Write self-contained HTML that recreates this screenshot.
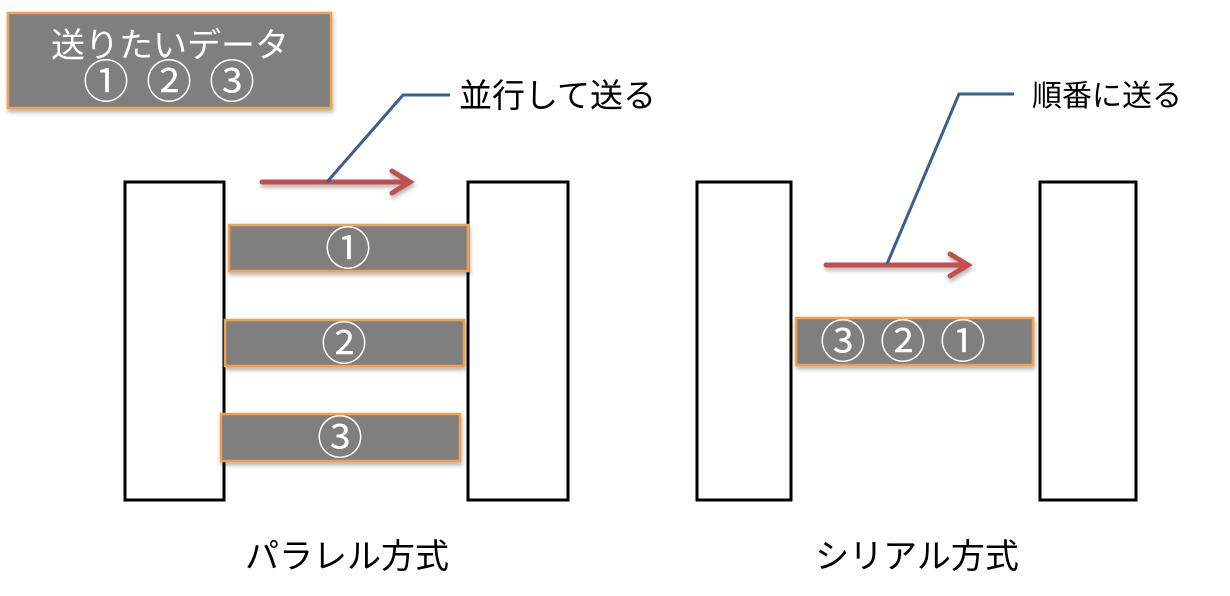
<!DOCTYPE html>
<html><head><meta charset="utf-8"><style>
html,body{margin:0;padding:0;background:#fff;width:1230px;height:596px;overflow:hidden}
svg{display:block}
text{font-family:"Liberation Sans","Noto Sans CJK JP",sans-serif}
</style></head><body>
<svg width="1230" height="596" viewBox="0 0 1230 596" xmlns="http://www.w3.org/2000/svg">
<defs>
<filter id="sh" x="-10%" y="-20%" width="130%" height="160%"><feDropShadow dx="1" dy="3" stdDeviation="2" flood-color="#000" flood-opacity="0.3"/></filter>
</defs>
<!-- top box -->
<rect x="8" y="13" width="323" height="95" fill="#7f7f7f" stroke="#f0a050" stroke-width="2.5" filter="url(#sh)"/>
<text x="170" y="57" font-size="34" fill="#fff" text-anchor="middle">送りたいデータ</text>
<g font-size="46" fill="#fff" text-anchor="middle" dominant-baseline="central">
<text x="106" y="82">①</text>
<text x="169" y="82">②</text>
<text x="232" y="82">③</text>
</g>

<!-- left diagram -->
<rect x="125" y="182" width="99" height="318" fill="none" stroke="#000" stroke-width="3"/>
<rect x="468" y="182" width="100" height="318" fill="none" stroke="#000" stroke-width="3"/>
<g filter="url(#sh)" stroke="#f0a050" stroke-width="2.5" fill="#7f7f7f">
<rect x="229" y="225" width="239" height="46"/>
<rect x="225" y="320" width="239" height="46"/>
<rect x="221" y="414" width="239" height="47"/>
<rect x="796" y="318" width="237" height="47"/>
</g>
<g font-size="46" fill="#fff" text-anchor="middle" dominant-baseline="central">
<text x="348" y="249">①</text>
<text x="344" y="344">②</text>
<text x="340" y="438">③</text>
<text x="843" y="342">③</text>
<text x="903" y="342">②</text>
<text x="963" y="342">①</text>
</g>
<!-- arrows -->
<g stroke="#c0504d" stroke-width="5" fill="none" stroke-linecap="round" filter="url(#sh)">
<line x1="262" y1="182" x2="410" y2="182"/>
<polyline points="392,171 410,182 392,193"/>
<line x1="826" y1="265" x2="968" y2="265"/>
<polyline points="950,254 968,265 950,276"/>
</g>
<g stroke="#3b5f8a" stroke-width="3" fill="none">
<polyline points="327,182 403,95 450,95"/>
<polyline points="887,264 959,94 1014,94"/>
</g>
<g fill="#000">
<text x="459" y="107" font-size="33">並行して送る</text>
<text x="1032" y="106" font-size="30">順番に送る</text>
</g>
<!-- right diagram -->
<rect x="697" y="182" width="94" height="318" fill="none" stroke="#000" stroke-width="3"/>
<rect x="1040" y="182" width="96" height="318" fill="none" stroke="#000" stroke-width="3"/>
<g font-size="34" fill="#000" text-anchor="middle">
<text x="347" y="568">パラレル方式</text>
<text x="917" y="568">シリアル方式</text>
</g>
</svg>
</body></html>
